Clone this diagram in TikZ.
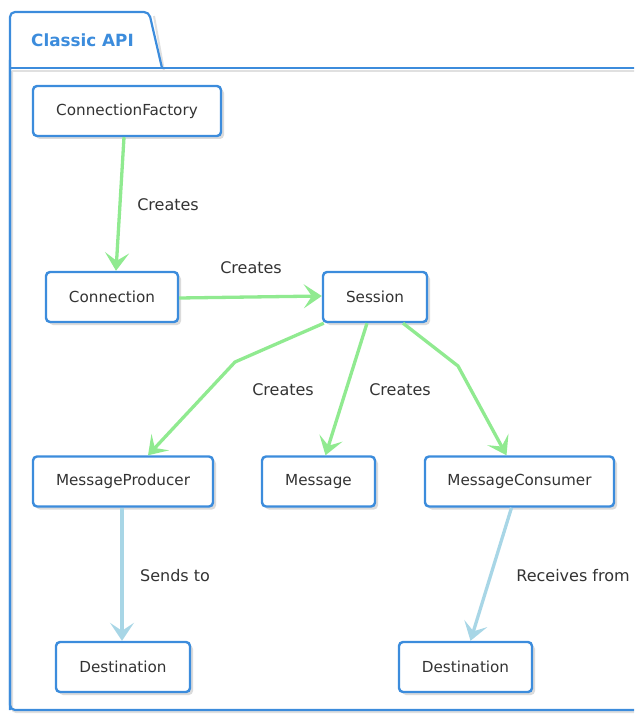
\documentclass[tikz,border=0pt]{standalone}
\usepackage{fontspec}
\setmainfont{DejaVu Sans}
\usetikzlibrary{arrows.meta,shadows}
\definecolor{frameblue}{RGB}{60,140,220}
\definecolor{txtgray}{RGB}{51,51,51}
\definecolor{greenline}{RGB}{144,234,144}
\definecolor{blueline}{RGB}{168,214,230}
\tikzset{
  box/.style={draw=frameblue, line width=2.4pt, rounded corners=4pt, fill=white,
    text=txtgray, font=\fontsize{15.2}{17}\selectfont, inner sep=0pt,
    drop shadow={shadow xshift=3pt, shadow yshift=-3pt, fill=black!14, opacity=1}},
  lbl/.style={text=txtgray, font=\fontsize{16}{18}\selectfont, inner sep=0pt},
  creates/.style={draw=greenline, line width=3.3pt,
    -{Stealth[length=18pt,width=24pt,inset=8pt]}},
  sends/.style={draw=blueline, line width=3.3pt,
    -{Stealth[length=18pt,width=24pt,inset=8pt]}},
}
\begin{document}
\begin{tikzpicture}[x=1pt,y=-1pt]
\useasboundingbox (0,0) rectangle (634,714);
\begin{scope}
\clip (0,0) rectangle (634,714);
% frame shadow
\draw[black!12, line width=2pt, rounded corners=4pt]
  (12,71) -- (12,712) -- (640,712);
\draw[black!12, line width=2pt] (12,71) -- (640,71);
\draw[black!12, line width=2pt] (154,16) -- (164,71);
% frame
\draw[frameblue, line width=2.2pt, rounded corners=5pt]
  (10,710) -- (10,12) -- (149,12) -- (162,68);
\draw[frameblue, line width=2.2pt] (10,68) -- (640,68);
\draw[frameblue, line width=2.2pt, rounded corners=5pt] (10,60) -- (10,710) -- (640,710);
\end{scope}
\node[anchor=west, text=frameblue, font=\fontsize{16.8}{18}\selectfont\bfseries, inner sep=0pt]
  (title) at (31,40) {Classic API};

% nodes
\node[box, minimum width=188pt, minimum height=50pt] (cf) at (127,111) {ConnectionFactory};
\node[box, minimum width=132pt, minimum height=50pt] (conn) at (112,297) {Connection};
\node[box, minimum width=104pt, minimum height=50pt] (sess) at (375,297) {Session};
\node[box, minimum width=180pt, minimum height=50pt] (mp) at (123,481.5) {MessageProducer};
\node[box, minimum width=113pt, minimum height=50pt] (msg) at (318.5,481.5) {Message};
\node[box, minimum width=189pt, minimum height=50pt] (mc) at (519.5,481.5) {MessageConsumer};
\node[box, minimum width=134pt, minimum height=50pt] (d1) at (123,667) {Destination};
\node[box, minimum width=133pt, minimum height=50pt] (d2) at (465.5,667) {Destination};

\coordinate (b1) at (235,362);
\coordinate (b2) at (458,366);

% connectors
\draw[creates] ([xshift=-3pt]cf.south) -- ([xshift=4pt]conn.north);
\draw[creates] ([yshift=-1pt]conn.east) -- ([yshift=1pt]sess.west);
\draw[creates] ([xshift=2pt]sess.south west) -- (b1) -- ([xshift=25pt]mp.north);
\draw[creates] ([xshift=-8pt]sess.south) -- ([xshift=7pt]msg.north);
\draw[creates] ([xshift=28pt]sess.south) -- (b2) -- ([xshift=-13pt]mc.north);
\draw[sends] ([xshift=-1pt]mp.south) -- ([xshift=-1pt]d1.north);
\draw[sends] ([xshift=-8pt]mc.south) -- ([xshift=5pt]d2.north);

% labels
\node[lbl] (l1) at (168,205) {Creates};
\node[lbl] (l2) at (251,268) {Creates};
\node[lbl] (l3) at (283,390) {Creates};
\node[lbl] (l4) at (400,390) {Creates};
\node[lbl] (l5) at (175,576) {Sends to};
\node[lbl] (l6) at (573,576) {Receives from};
\end{tikzpicture}
\end{document}
